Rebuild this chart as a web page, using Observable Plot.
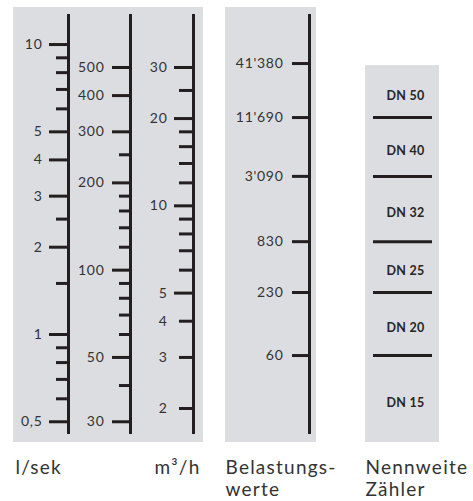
<!DOCTYPE html>
<html><head><meta charset="utf-8">
<script src="https://cdn.jsdelivr.net/npm/d3@7"></script>
<script src="https://cdn.jsdelivr.net/npm/@observablehq/plot@0.6"></script>
<style>
body{margin:0;background:#fff}
svg text{letter-spacing:0.05em}
svg g[font-weight="bold"] text{letter-spacing:0.02em}
svg g[font-size="19"] text{letter-spacing:0.065em}
</style>
</head><body><div id="chart"></div>
<script>
// ---- data ----
const lsekMajor = [10, 5, 4, 3, 2, 1, 0.5];
const lsekLabels = ["10", "5", "4", "3", "2", "1", "0,5"];
const lsekMinor = [9, 8, 7, 6, 2.5, 1.5, 0.9, 0.8, 0.7, 0.6];
const lminMajor = [500, 400, 300, 200, 100, 50, 30];
const lminMinor = [250, 180, 160, 140, 120, 90, 80, 70, 60, 40];
const m3hMajor = [30, 20, 10, 5];
const m3hShortLabeled = [4, 3, 2];
const m3hMinor = [25, 18, 16, 14, 12, 9, 8, 7, 6];
const belastLabels = ["41'380", "11'690", "3'090", "830", "230", "60"];
const belastFlow = [8.60, 5.60, 3.51, 2.09, 1.396, 0.846]; // equivalent l/sek
const dnLabels = ["DN 50", "DN 40", "DN 32", "DN 25", "DN 20", "DN 15"];
const bottomLabels = ["l/sek", "m³/h", "Belastungs-\nwerte", "Nennweite\nZähler"];

// ---- layout ----
const W = 473, H = 501;
const ink = "#231f20", txt = "#333333", panel = "#dcdde0";
const yTop = 13.42, yBot = 0.4241, axTop = 12.69, axBot = 0.4518, dnTop = 8.46;
const lmin = v => v / 60, m3h = v => v / 3.6, id = v => v;
const font = "Lato, 'Open Sans', sans-serif";

const ticks = (vals, conv, x1, x2) =>
  Plot.ruleY(vals, {y: d => conv(d), x1, x2, stroke: ink, strokeWidth: 3});
const labels = (vals, conv, names, x) =>
  Plot.text(vals, {y: d => conv(d), x, text: (d, i) => names ? names[i] : String(d),
    textAnchor: "end", fontSize: 14, fill: txt});
const bottom = (label, x, anchor) =>
  Plot.text([label], {x, frameAnchor: "bottom", lineAnchor: "top", dy: 15,
    textAnchor: anchor, fontSize: 19, lineHeight: 1.2, fill: txt});

const dnBounds = [dnTop, ...belastFlow.slice(1), yBot];
const dnMid = dnLabels.map((_, i) => Math.sqrt(dnBounds[i] * dnBounds[i + 1]));

const chart = Plot.plot({
  width: W, height: H, marginTop: 7, marginBottom: 59, marginLeft: 0, marginRight: 0,
  x: {domain: [0, W], range: [0, W], axis: null},
  y: {type: "log", domain: [yBot, yTop], axis: null},
  style: {fontFamily: font, background: "#fff", color: txt},
  marks: [
    Plot.rect([0], {x1: 13, x2: 203, y1: yBot, y2: yTop, fill: panel}),
    Plot.rect([0], {x1: 225, x2: 316, y1: yBot, y2: yTop, fill: panel}),
    Plot.rect([0], {x1: 365, x2: 439, y1: yBot, y2: dnTop, fill: panel}),
    Plot.ruleX([68, 130, 193, 309], {x: d => d, y1: axBot, y2: axTop, stroke: ink, strokeWidth: 3}),
    // l/sek
    ticks(lsekMajor, id, 49, 68),
    ticks(lsekMinor, id, 56, 68),
    labels(lsekMajor, id, lsekLabels, 42),
    // l/min
    ticks(lminMajor, lmin, 112, 130),
    ticks(lminMinor, lmin, 119, 130),
    labels(lminMajor, lmin, null, 104),
    // m3/h
    ticks(m3hMajor, m3h, 174, 193),
    ticks(m3hShortLabeled, m3h, 179, 193),
    ticks(m3hMinor, m3h, 179, 193),
    labels(m3hMajor, m3h, null, 167),
    labels(m3hShortLabeled, m3h, null, 167),
    // Belastungswerte
    ticks(belastFlow, id, 292, 309),
    labels(belastFlow, id, belastLabels, 283),
    // DN
    Plot.ruleY(belastFlow.slice(1), {y: d => d, x1: 373, x2: 432, stroke: ink, strokeWidth: 3}),
    Plot.text(dnMid, {y: d => d, x: 405, dy: 4, text: (d, i) => dnLabels[i],
      fontSize: 12.5, fontWeight: "bold", fill: "#262626"}),
    // bottom labels
    bottom(bottomLabels[0], 15, "start"),
    bottom(bottomLabels[1], 200, "end"),
    bottom(bottomLabels[2], 225, "start"),
    bottom(bottomLabels[3], 365, "start")
  ]
});
document.getElementById("chart").appendChild(chart);
</script>
</body></html>
